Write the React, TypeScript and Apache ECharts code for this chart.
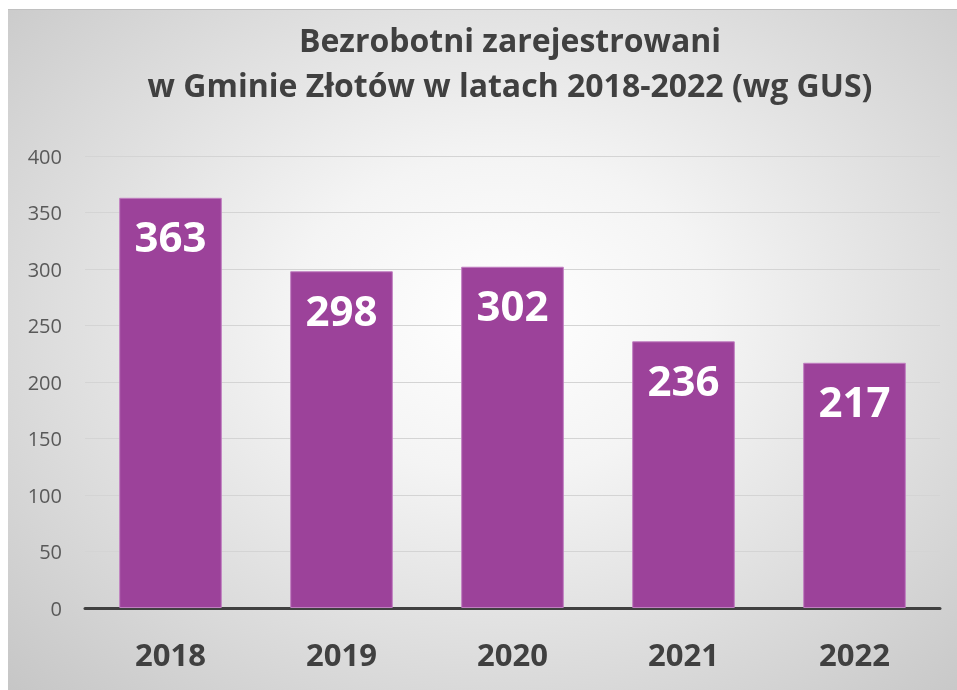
import React, { useEffect, useRef } from "react";
import * as echarts from "echarts";

const years = ["2018", "2019", "2020", "2021", "2022"];
const unemployed = [363, 298, 302, 236, 217];
const titleLines = ["Bezrobotni zarejestrowani", "w Gminie Złotów w latach 2018-2022 (wg GUS)"];

export default function App() {
  const ref = useRef<HTMLDivElement>(null);
  useEffect(() => {
    if (!ref.current) return;
    const chart = echarts.init(ref.current, undefined, { renderer: "svg" });
    chart.setOption({
      animation: false,
      backgroundColor: "transparent",
      title: {
        text: titleLines.join("\n"),
        left: 497,
        top: 2,
        textAlign: "center",
        textStyle: {
          fontFamily: "Open Sans",
          fontWeight: "bold",
          fontSize: 32,
          color: "#404040",
          lineHeight: 45,
        },
      },
      grid: { left: 77, right: 17, top: 146, bottom: 82 },
      xAxis: {
        type: "category",
        data: years,
        axisLine: { lineStyle: { color: "#404040", width: 3 } },
        axisTick: { show: false },
        axisLabel: {
          fontFamily: "Open Sans",
          fontWeight: "bold",
          fontSize: 31,
          color: "#404040",
          margin: 30,
        },
      },
      yAxis: {
        type: "value",
        min: 0,
        max: 400,
        interval: 50,
        axisLine: { show: false },
        axisTick: { show: false },
        splitLine: { lineStyle: { color: "#d4d4d4", width: 1 } },
        axisLabel: {
          fontFamily: "Open Sans",
          fontSize: 20,
          color: "#595959",
          margin: 23,
        },
      },
      series: [
        {
          type: "bar",
          data: unemployed,
          barCategoryGap: "40%",
          itemStyle: { color: "#9c429a", borderColor: "#c07ec0", borderWidth: 1 },
          label: {
            show: true,
            position: "insideTop",
            distance: 17,
            fontFamily: "Open Sans",
            fontWeight: "bold",
            fontSize: 42,
            color: "#ffffff",
          },
        },
      ],
    });
    return () => chart.dispose();
  }, []);
  return (
    <div
      ref={ref}
      style={{
        position: "fixed",
        left: 8,
        top: 9,
        width: 949,
        height: 681,
        background: "radial-gradient(ellipse at 52% 45%, #ffffff 0%, #f4f4f4 30%, #c6c6c6 100%)",
        borderTop: "1px solid #c0c0c0",
        boxSizing: "border-box",
      }}
    />
  );
}
